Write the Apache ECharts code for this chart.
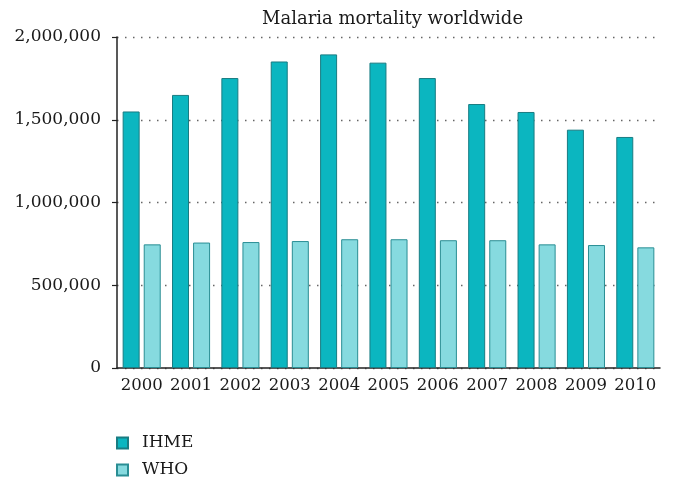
<!DOCTYPE html>
<html>
<head>
<meta charset="utf-8">
<script src="https://cdn.jsdelivr.net/npm/echarts@6/dist/echarts.min.js"></script>
<style>
html,body{margin:0;padding:0;background:#fff;}
#chart{width:675px;height:490px;}
</style>
</head>
<body>
<div id="chart"></div>
<script>
const years = ['2000','2001','2002','2003','2004','2005','2006','2007','2008','2009','2010'];
const ihme = [1550000,1650000,1752000,1852000,1895000,1845000,1752000,1595000,1547000,1440000,1396000];
const who = [747000,758000,761000,767000,778000,778000,772000,772000,747000,743000,729000];
const seriesNames = ['IHME','WHO'];
const titleText = 'Malaria mortality worldwide';

const serif = 'DejaVu Serif';
const chart = echarts.init(document.getElementById('chart'));
chart.setOption({
  animation: false,
  backgroundColor: '#fff',
  title: {
    text: titleText,
    left: 262, top: 10, padding: 0,
    textStyle: { fontFamily: serif, fontSize: 18, fontWeight: 'normal', color: '#1a1a1a' }
  },
  legend: {
    orient: 'vertical',
    left: 116, top: 434,
    padding: 0,
    itemWidth: 11, itemHeight: 11,
    itemGap: 9,
    icon: 'rect',
    textStyle: { fontFamily: serif, fontSize: 17, color: '#1a1a1a', lineHeight: 18, padding: [0,0,0,9] },
    data: seriesNames
  },
  grid: { left: 117, right: 15, top: 37, bottom: 122, containLabel: false },
  xAxis: {
    type: 'category',
    data: years,
    axisLine: { show: true, lineStyle: { color: '#222', width: 1.5 } },
    axisTick: { show: false },
    axisLabel: { fontFamily: serif, fontSize: 16.5, color: '#1a1a1a', margin: 9, interval: 0 }
  },
  yAxis: {
    type: 'value',
    min: 0, max: 2000000, interval: 500000,
    axisLine: { show: true, lineStyle: { color: '#222', width: 1.5 } },
    axisTick: { show: true, inside: false, length: 5, lineStyle: { color: '#222', width: 1.2 } },
    axisLabel: {
      fontFamily: serif, fontSize: 17, color: '#1a1a1a', margin: 16,
      formatter: v => v.toLocaleString('en-US')
    },
    splitLine: { show: true, lineStyle: { color: '#666', width: 1.3, type: [1.5, 6.5] } }
  },
  series: [
    {
      name: seriesNames[0], type: 'bar', data: ihme,
      barWidth: 17, barGap: '24%',
      itemStyle: { color: '#0bb6c0', borderColor: '#197c82', borderWidth: 1 }
    },
    {
      name: seriesNames[1], type: 'bar', data: who,
      barWidth: 17,
      itemStyle: { color: '#86dadf', borderColor: '#2a8e94', borderWidth: 1 }
    }
  ]
});
</script>
</body>
</html>
